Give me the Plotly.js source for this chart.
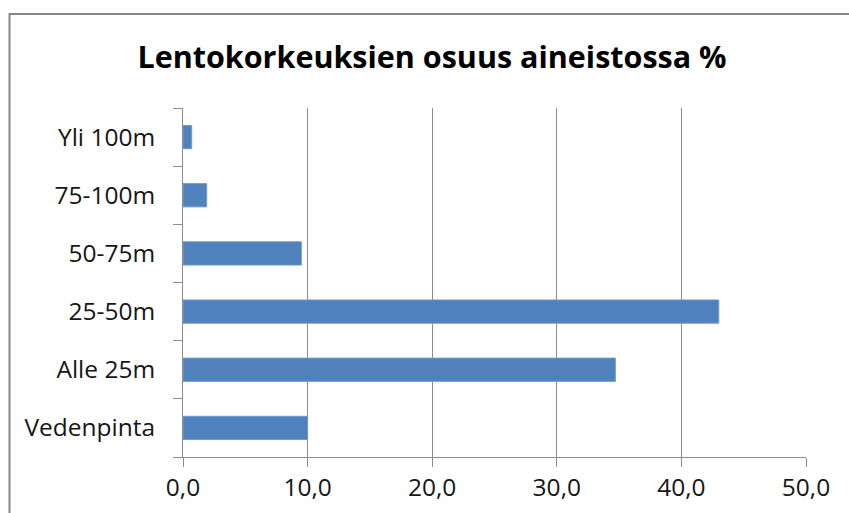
<!DOCTYPE html>
<html>
<head>
<meta charset="utf-8">
<script src="https://cdn.plot.ly/plotly-3.0.1.min.js"></script>
<style>html,body{margin:0;padding:0;background:#fff;}#chart{width:849px;height:513px;}</style>
</head>
<body>
<div id="chart"></div>
<script>
const categories = ['Vedenpinta', 'Alle 25m', '25-50m', '50-75m', '75-100m', 'Yli 100m'];
const shares = [10.0, 34.7, 43.0, 9.5, 1.9, 0.7];
const xTicks = [0, 10, 20, 30, 40, 50];
const chartTitle = 'Lentokorkeuksien osuus aineistossa %';

const L = 183, R = 43, T = 108, B = 56;
const W = 849, H = 513;
const pw = W - L - R, ph = H - T - B;
const px = v => (v - L) / pw;
const py = v => (H - B - v) / ph;

const trace = {
  type: 'bar',
  orientation: 'h',
  y: categories,
  x: shares,
  width: 0.4,
  marker: {color: '#4F81BD', line: {color: '#729BD0', width: 1}},
  hoverinfo: 'x+y'
};

const layout = {
  width: W, height: H,
  margin: {l: L, r: R, t: T, b: B, pad: 0},
  paper_bgcolor: '#fff', plot_bgcolor: '#fff',
  separators: ', ',
  showlegend: false,
  font: {family: 'Open Sans, sans-serif', color: '#111'},
  title: {
    text: chartTitle,
    font: {family: 'Open Sans, sans-serif', size: 30.5, color: '#000', weight: 'bold'},
    x: 432 / W, xanchor: 'center', xref: 'container',
    y: 1 - 57 / H, yanchor: 'middle', yref: 'container'
  },
  xaxis: {
    range: [0, 50], tickvals: xTicks, tickformat: '.1f',
    showgrid: true, gridcolor: '#8C8C8C', gridwidth: 1,
    showline: true, linecolor: '#8C8C8C', linewidth: 1,
    ticks: 'outside', ticklen: 9, tickcolor: '#8C8C8C',
    tickfont: {size: 24.5, color: '#161616'},
    zeroline: false, fixedrange: true
  },
  yaxis: {
    type: 'category', categoryorder: 'array', categoryarray: categories,
    showgrid: false,
    showline: true, linecolor: '#8C8C8C', linewidth: 1,
    ticks: 'outside', ticklen: 9, tickcolor: '#8C8C8C', tickson: 'boundaries',
    tickfont: {size: 24.5, color: '#161616'},
    ticklabelstandoff: 22,
    fixedrange: true
  },
  shapes: [{
    type: 'rect', xref: 'paper', yref: 'paper',
    x0: px(9.5), x1: px(900), y0: py(14), y1: py(600),
    line: {color: '#868686', width: 2}, fillcolor: 'rgba(0,0,0,0)', layer: 'below'
  }]
};

Plotly.newPlot('chart', [trace], layout, {displayModeBar: false, staticPlot: true});
</script>
</body>
</html>
